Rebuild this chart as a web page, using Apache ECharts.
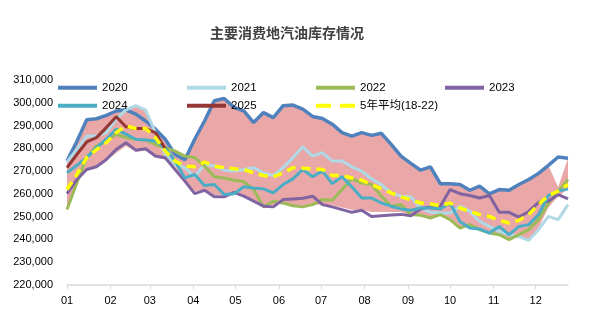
<!DOCTYPE html>
<html>
<head>
<meta charset="utf-8">
<script src="https://cdn.jsdelivr.net/npm/echarts@6/dist/echarts.min.js"></script>
<style>html,body{margin:0;padding:0;background:#fff;}#c{width:604px;height:329px;}</style>
</head>
<body>
<div id="c"></div>
<script>
// week dates (x positions on a calendar year)
var weekDates = ['2021-01-01','2021-01-08','2021-01-15','2021-01-22','2021-01-29','2021-02-05','2021-02-12','2021-02-19','2021-02-26','2021-03-05','2021-03-12','2021-03-19','2021-03-26','2021-04-02','2021-04-09','2021-04-16','2021-04-23','2021-04-30','2021-05-07','2021-05-14','2021-05-21','2021-05-28','2021-06-04','2021-06-11','2021-06-18','2021-06-25','2021-07-02','2021-07-09','2021-07-16','2021-07-23','2021-07-30','2021-08-06','2021-08-13','2021-08-20','2021-08-27','2021-09-03','2021-09-10','2021-09-17','2021-09-24','2021-10-01','2021-10-08','2021-10-15','2021-10-22','2021-10-29','2021-11-05','2021-11-12','2021-11-19','2021-11-26','2021-12-03','2021-12-10','2021-12-17','2021-12-24'];

// values in thousand tonnes
var s2020 = [274.4,283,292.5,293,294.5,296.4,296.9,295,292,288.4,284,277.3,275,284,292,300.9,301.9,298,296.4,291.3,295.7,293.5,298.7,299,297.2,294,293.1,290.6,286.9,285.4,286.9,285.7,286.6,281.7,276.6,273.4,270.4,271.9,264.5,264.5,264.1,261.6,263.4,260,261.9,261.6,264.1,266.3,269,272.5,276.2,275.6];
var s2021 = [274,279.5,285.4,285.4,286.9,292.8,296.9,298.7,296.9,286.9,277.3,272.9,271.5,267.5,272.9,272.2,270.4,270,270.7,271.5,269.2,268.1,271.5,275.9,280.7,276.6,278.1,274.4,274.4,271.9,270,266.6,264.1,260.4,259,258.7,253.8,251.9,251.6,251.6,254.6,252.3,247.9,245.7,243.5,242.1,241.3,239.6,244.3,250.1,248.7,255.3];
var s2022 = [253.1,264.8,275.9,281,283.2,286.2,284.7,284,283.7,281.7,280.3,278.8,276.6,275.9,272.2,267.5,267,266,265.4,261.9,254.3,256.8,256,254.8,254.3,255.3,257.5,257.2,261.9,266.6,264.8,264.1,259,254.6,255.3,250.9,250.6,249.4,250.9,248.7,245,246.5,244.3,242.8,242.1,239.9,242.1,244.3,248.7,256,261.2,266.3];
var s2023 = [260.1,266.3,270.7,271.9,275.1,279.5,282.5,279.2,279.8,276.6,275.9,270.7,265.6,260.1,261.6,258.7,258.7,260.7,259,256.8,254.6,254.3,257.5,257.8,258.1,259,255.3,254.3,253.1,251.9,252.8,250.1,250.4,250.7,251,250.4,253.4,254.3,254.6,261.9,260.1,259.3,258.2,259.3,251.9,251.9,249.8,252.3,256.3,256.8,259.7,257.8];
var s2024 = [269.3,272.5,275.9,280.3,284,288.4,286.2,284,283.7,283.2,280.3,274.4,267,268.5,263.7,264.1,259.7,260.1,263.1,262.6,262.2,260.4,264.1,266.6,270.7,267.5,270,264.5,267.5,263.1,258.2,258.2,256,254.6,253.4,252.8,253.8,253.8,253.4,256,247.9,245,244.6,242.8,245.7,242.1,245.7,246.5,250.9,259.3,261.2,262.2];
var s2025 = [271.5,277.3,282.8,284.7,289.1,293.9,289.5,288.7,288.7,286.9,279.8];
var avg5 = [261.9,268.5,275.9,279.5,282.5,286.9,289.8,288.7,288.7,284.7,278.8,274.4,272.2,271.9,274,272.2,271.5,271,270.7,269.2,268.1,267.5,269.2,271.5,271.3,271,270.7,268.1,268.1,267,266,264.1,262.2,260.4,258.7,257.5,256,255.6,254.8,256,253.8,252.3,250.9,250.1,248.4,247.2,248.4,250.9,255.3,259.3,261.2,264.1];
var bandMin = [253.1,265,270,272,274.5,278,281,278.5,279,276,275,272,266,261,262,259.5,259.5,261,259.5,257.5,255,255,256,255,254.5,255,255.5,255,254,253,253,252,252,252,252,250.5,250.5,249.5,250.5,248.7,245,246,244.3,242.8,242,240,241,239.6,245,254,259,262];
var bandMax = [274.4,283,292.5,293,294.5,296.4,296.9,298.7,296.9,288.4,284,277.3,275,284,292,300.9,301.9,298,296.4,291.3,295.7,293.5,298.7,299,297.2,294,293.1,290.6,286.9,285.4,286.9,285.7,286.6,281.7,276.6,273.4,270.4,271.9,264.5,264.5,264.1,261.6,263.4,260,261.9,261.6,264.1,266.3,269,272.5,263,275.6];

var seriesNames = ['2020','2021','2022','2023','2024','2025','5年平均(18-22)'];
var seriesValues = [s2020, s2021, s2022, s2023, s2024, s2025, avg5];
var seriesColors = ['#4F81BD','#B0D9E6','#9BBB59','#8064A2','#4BACC6','#953735','#FFFF00'];
var seriesWidths = [3.5,3,3,3,3,3,3.5];
var legendPos = [[58,82],[187,82],[316,82],[445,82],[58,100],[187,100],[316,100]];

function pairs(vals){ return vals.map(function(v,i){ return [weekDates[i], v]; }); }

var series = [
  { name:'bandBase', type:'line', stack:'band', symbol:'none', silent:true,
    data: pairs(bandMin), lineStyle:{opacity:0}, z:1 },
  { name:'bandRange', type:'line', stack:'band', symbol:'none', silent:true,
    data: pairs(bandMax.map(function(v,i){ return v - bandMin[i]; })),
    lineStyle:{opacity:0}, areaStyle:{color:'#E9A8A7', opacity:1}, z:1 }
];
seriesNames.forEach(function(n, k){
  series.push({
    name:n, type:'line', symbol:'none', z: 2 + k,
    data: pairs(seriesValues[k]),
    lineStyle:{ color: seriesColors[k], width: seriesWidths[k], type: k===6 ? [9,6] : 'solid' },
    itemStyle:{ color: seriesColors[k] }
  });
});

var solidIcon = 'path://M0,0H39V4H0Z';
var dashIcon = 'path://M0,0H15V4H0Z M24,0H39V4H24Z';
var legends = seriesNames.map(function(n,k){
  return { data:[{ name:n, icon: k===6 ? dashIcon : solidIcon }],
    left: legendPos[k][0], top: legendPos[k][1], padding:0, itemGap:0,
    itemWidth:39, itemHeight:4, selectedMode:false,
    itemStyle:{ color: seriesColors[k], borderWidth:0 },
    textStyle:{ fontSize:11.5, color:'#000', fontFamily:'Liberation Sans, Noto Sans CJK SC' } };
});

var chart = echarts.init(document.getElementById('c'), null, {renderer:'canvas'});
chart.setOption({
  animation:false,
  backgroundColor:'#fff',
  title:{ text:'主要消费地汽油库存情况', left:205, top:21,
    textStyle:{ fontSize:14, fontWeight:'bold', color:'#404040', fontFamily:'Noto Sans CJK SC' } },
  legend: legends,
  grid:{ left:67, right:36, top:80, bottom:44, containLabel:false },
  xAxis:{ type:'time', min:'2021-01-01', max:'2021-12-24',
    minInterval: 28*86400000, maxInterval: 31*86400000,
    axisLine:{ lineStyle:{ color:'#D9D9D9', width:1.5 } },
    axisTick:{ show:true, length:4, lineStyle:{ color:'#D9D9D9' } },
    splitLine:{ show:false },
    axisLabel:{ margin:10, fontSize:11, color:'#000', fontFamily:'Liberation Sans',
      formatter:function(v){ var m = new Date(v).getMonth()+1; return (m<10?'0':'')+m; } }
  },
  yAxis:{ type:'value', min:220, max:310, interval:10,
    axisLine:{ show:false }, axisTick:{ show:false }, splitLine:{ show:false },
    axisLabel:{ margin:14, fontSize:11, color:'#000', fontFamily:'Liberation Sans',
      formatter:function(v){ return (v*1000).toLocaleString('en-US'); } }
  },
  series: series
});
</script>
</body>
</html>
